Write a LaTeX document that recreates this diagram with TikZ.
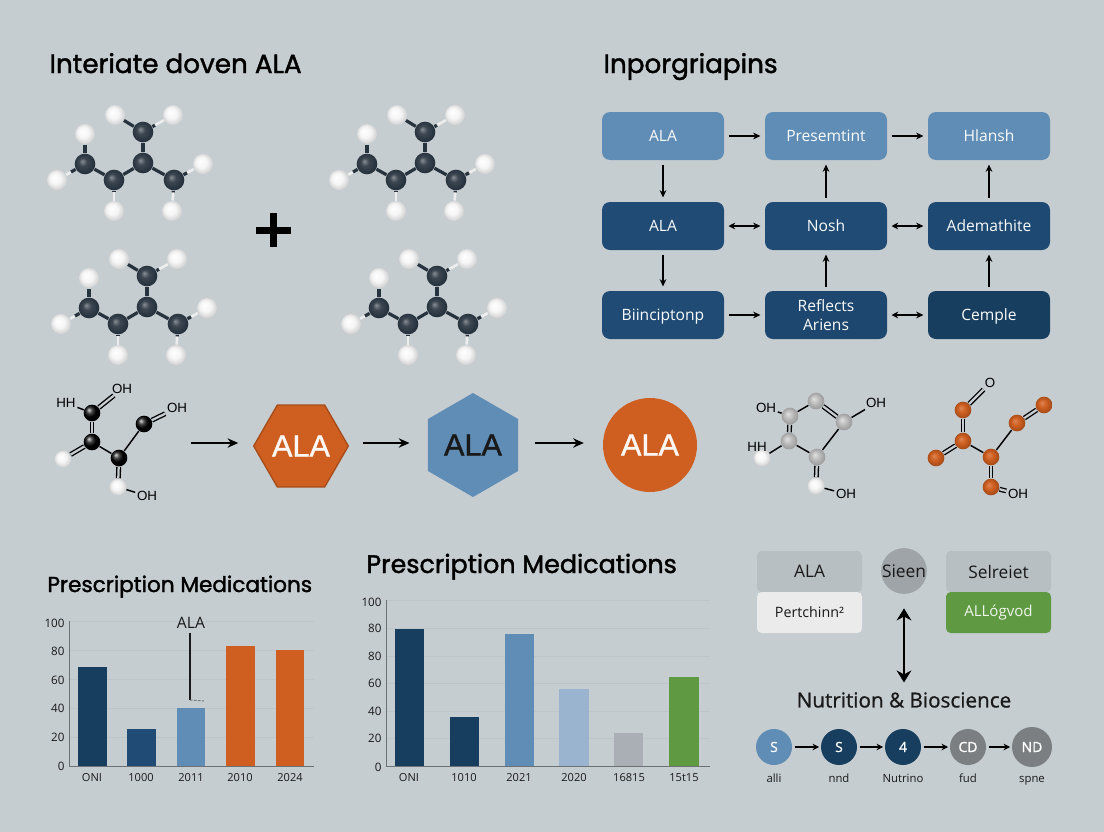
\documentclass[tikz,border=0pt]{standalone}
\usepackage{fontspec}
\setmainfont{Open Sans}
\newfontfamily\headfont[FakeBold=1.6]{Poppins}
\newfontfamily\molfont{Liberation Sans}
\newfontfamily\bigfont[FakeBold=1.2]{Liberation Sans}
\newfontfamily\midfont[FakeBold=0.8]{Open Sans}
\usetikzlibrary{arrows.meta,shapes.geometric,calc}

\definecolor{paper}{RGB}{198,205,209}
\definecolor{steel}{RGB}{95,141,181}
\definecolor{navy}{RGB}{31,75,117}
\definecolor{deepnavy}{RGB}{23,62,95}
\definecolor{rust}{RGB}{207,95,32}
\definecolor{leaf}{RGB}{95,154,66}
\definecolor{slate}{RGB}{38,50,62}
\definecolor{paleblue}{RGB}{154,180,208}
\definecolor{ash}{RGB}{169,175,180}

\pgfdeclareradialshading{hball}{\pgfpoint{-7bp}{7bp}}{color(0bp)=(white); color(14bp)=(black!4); color(28bp)=(black!20); color(35bp)=(black!38)}
\pgfdeclareradialshading{cball}{\pgfpoint{-7bp}{7bp}}{color(0bp)=(slate!55!white); color(10bp)=(slate!90!white); color(24bp)=(slate); color(35bp)=(slate!65!black)}
\pgfdeclareradialshading{greyball}{\pgfpoint{-7bp}{7bp}}{color(0bp)=(black!12); color(14bp)=(black!28); color(35bp)=(black!48)}
\pgfdeclareradialshading{rustball}{\pgfpoint{-7bp}{7bp}}{color(0bp)=(rust!75!white); color(12bp)=(rust); color(35bp)=(rust!65!black)}

\tikzset{every picture/.style={line width=0.75pt}}
\tikzset{
  headtext/.style={font=\headfont\fontsize{19.7}{24}\selectfont,anchor=base west,inner sep=0,text=black},
  charthead/.style={headtext,font=\headfont\fontsize{#1}{20}\selectfont},
  flowbox/.style={rounded corners=6pt,minimum width=91.5pt,minimum height=36pt,inner sep=0,text={white!92!paper},align=center,font=\fontsize{11.7}{14.3}\selectfont},
  lowtext/.style={text height=9.5pt,text depth=2pt},
  flowarrow/.style={-{Stealth[length=5.5pt,width=5pt]},line width=0.9pt,shorten >=3pt,shorten <=3pt},
  flowboth/.style={flowarrow,{Stealth[length=5pt,width=5pt]}-{Stealth[length=5.5pt,width=5pt]}},
  procarrow/.style={-{Stealth[length=8pt,width=7pt]},line width=1.2pt},
  catom/.style={circle,inner sep=0,minimum size=15.5pt,shading=cball},
  hatom/.style={circle,inner sep=0,minimum size=15pt,shading=hball},
  bondc/.style={line width=2.4pt,draw=slate},
  bondh/.style={line width=2pt,draw=black!7},
  blackatom/.style={circle,inner sep=0,minimum size=12.5pt,ball color=black},
  paleatom/.style={circle,inner sep=0,minimum size=12.5pt,shading=hball},
  greyatom/.style={circle,inner sep=0,minimum size=12.5pt,shading=greyball},
  rustatom/.style={circle,inner sep=0,minimum size=12.5pt,shading=rustball},
  moltext/.style={font=\molfont\fontsize{10}{12}\selectfont,inner sep=1pt,text=black},
  single/.style={line width=1.1pt},
  twin/.style={line width=1pt,double=paper,double distance=1.7pt},
  tick/.style={font=\fontsize{8.7}{10}\selectfont,anchor=east,inner sep=0,text=black!90},
  xlabel/.style={font=\fontsize{8.3}{10}\selectfont,inner sep=0,text=black!90},
  axisline/.style={line width=0.75pt,draw=black!45!paper},
  gridline/.style={line width=0.6pt,draw=black!4!paper},
  panelbox/.style={rounded corners=3.5pt,minimum width=78.75pt,minimum height=30.75pt,inner sep=0,text=black!90},
  stepdot/.style={circle,minimum size=27pt,inner sep=0,text=white,font=\midfont\fontsize{10.5}{12}\selectfont},
  steplabel/.style={font=\fontsize{8.5}{10}\selectfont,inner sep=0,text=black!90,anchor=base},
  steparrow/.style={-{Stealth[length=5pt,width=5pt]},line width=0.9pt,shorten >=1pt,shorten <=1.5pt},
  bigtext/.style={font=\bigfont\fontsize{23}{28}\selectfont},
}

% one dark chain molecule with its hydrogens, prefix #1 at (#2,#3)
\newcommand{\chainmol}[3]{%
  \begin{scope}[shift={(#2,#3)}]
    \draw (0,0) node (#1m) [catom] {};
    \draw (0,-31) node (#1t) [catom] {};
    \draw (-29,17) node (#1a) [catom] {};
    \draw (-58,1) node (#1b) [catom] {};
    \draw (31,17) node (#1c) [catom] {};
    \draw (-28,-48) node (#1h) [hatom] {};
    \draw (30,-48) node (#1i) [hatom] {};
    \draw (-58,-29) node (#1j) [hatom] {};
    \draw (-86,17) node (#1k) [hatom] {};
    \draw (-29,48) node (#1l) [hatom] {};
    \draw (60,1) node (#1n) [hatom] {};
    \draw (29,48) node (#1o) [hatom] {};
  \end{scope}
  \draw [bondc] (#1m) -- (#1t);
  \draw [bondc] (#1m) -- (#1a);
  \draw [bondc] (#1a) -- (#1b);
  \draw [bondc] (#1m) -- (#1c);
  \draw [bondc] (#1t) -- (#1h);
  \draw [bondh] (#1t) -- (#1i);
  \draw [bondh] (#1b) -- (#1k);
  \draw [bondh] (#1a) -- (#1l);
  \draw [bondh] (#1c) -- (#1n);
  \draw [bondh] (#1c) -- (#1o);
  \draw [bondc] (#1b) -- (#1j);
  \draw [bondc] (#1b) -- ($(#1b)!.5!(#1k)$);
  \draw [bondc] (#1a) -- ($(#1a)!.4!(#1l)$);
  \draw [bondc] (#1c) -- ($(#1c)!.45!(#1n)$);
  \draw [bondc] (#1c) -- ($(#1c)!.4!(#1o)$);
  \draw [bondc] (#1t) -- ($(#1t)!.4!(#1i)$);
}

\begin{document}
\begin{tikzpicture}[x=0.75pt,y=0.75pt,yscale=-1,xscale=1]

%Background
\fill [paper] (0,0) rectangle (1104,832);

% Headings
\draw (49,73) node (headleft) [headtext] {Interiate doven ALA};
\draw (603,73) node (headright) [headtext] {Inporgriapins};

%Molecules
\chainmol{ma}{143}{163}
\chainmol{mb}{425}{163}
\chainmol{mc}{147}{307}
\chainmol{md}{437}{307}

%Plus
\fill [black] (256,226.5) rectangle (291,233.5);
\fill [black] (270,213) rectangle (277,247);

%Flow boxes
\draw (663,136) node (fa) [flowbox,fill=steel] {ALA};
\draw (826,136) node (fb) [flowbox,fill=steel] {Presemtint};
\draw (989,136) node (fc) [flowbox,fill=steel] {Hlansh};
\draw (663,226) node (fd) [flowbox,fill=navy] {ALA};
\draw (826,226) node (fe) [flowbox,fill=navy] {Nosh};
\draw (989,226) node (ff) [flowbox,fill=navy!85!deepnavy] {Ademathite};
\draw (663,315) node (fg) [flowbox,fill=navy,lowtext] {Biinciptonp};
\draw (826,315) node (fh) [flowbox,fill=navy!70!deepnavy] {Reflects\\Ariens};
\draw (989,315) node (fi) [flowbox,fill=deepnavy,lowtext] {Cemple};

%Flow arrows
\draw [flowarrow] (fa) -- (fb);
\draw [flowarrow] (fb) -- (fc);
\draw [flowarrow] (fa) -- (fd);
\draw [flowarrow] (fd) -- (fg);
\draw [flowboth] (fd) -- (fe);
\draw [flowboth] (fe) -- (ff);
\draw [flowarrow] (fe) -- (fb);
\draw [flowarrow] (ff) -- (fc);
\draw [flowarrow] (fg) -- (fh);
\draw [flowboth] (fh) -- (fi);
\draw [flowarrow] (fh) -- (fe);
\draw [flowarrow] (fi) -- (ff);

%Black molecule
\draw (92,413) node (ba) [blackatom] {};
\draw (92,442) node (bb) [blackatom] {};
\draw (119,458) node (bc) [blackatom] {};
\draw (144,424) node (bd) [blackatom] {};
\draw (63,459) node (be) [paleatom] {};
\draw (118,487) node (bf) [paleatom] {};
% Text Node
\draw (122,389) node (bg) [moltext] {OH};
\draw (66,403) node (bh) [moltext] {HH};
\draw (177,408) node (bi) [moltext] {OH};
\draw (147,496) node (bj) [moltext] {OH};
\draw [twin] (ba) -- (bb);
\draw [twin] (ba) -- (bg);
\draw [single] (ba) -- (bh);
\draw [twin] (bb) -- (be);
\draw [single] (bb) -- (bc);
\draw [twin] (bc) -- (bf);
\draw [single] (bf) -- (bj);
\draw [single] (bc) -- (bd);
\draw [twin] (bd) -- (bi);

%Process row
\draw (301,446) node (hexa) [regular polygon,regular polygon sides=6,minimum size=67.5pt,inner sep=0,fill=rust,draw=rust!80!black,line width=1pt,text=white!95!rust,bigtext] {ALA};
\draw (473,445) node (hexb) [regular polygon,regular polygon sides=6,shape border rotate=90,minimum size=78pt,inner sep=0,fill=steel,text=black!90,bigtext] {ALA};
\draw (650,445) node (ball) [circle,minimum size=70.5pt,inner sep=0,fill=rust,text=white!95!rust,bigtext] {ALA};
\coordinate (chainend) at (191,443);
\draw [procarrow,shorten >=11pt] (chainend) -- (hexa.west |- chainend);
\draw [procarrow,shorten <=10.5pt,shorten >=13.5pt] (hexa.east |- chainend) -- (hexb.west |- chainend);
\draw [procarrow,shorten <=12pt,shorten >=14pt] (hexb.east |- chainend) -- (ball.west |- chainend);

%Grey molecule
\draw (790,416) node (ga) [greyatom] {};
\draw (816,401) node (gb) [greyatom] {};
\draw (844,422) node (gc) [greyatom] {};
\draw (789,441) node (gd) [greyatom] {};
\draw (817,457) node (ge) [greyatom] {};
\draw (762,458) node (gf) [paleatom] {};
\draw (816,486) node (gg) [paleatom] {};
% Text Node
\draw (766,408) node (gh) [moltext] {OH};
\draw (876,403) node (gi) [moltext] {OH};
\draw (757,447) node (gj) [moltext] {HH};
\draw (846,494) node (gk) [moltext] {OH};
\draw [single] (ga) -- (gb);
\draw [twin] (gb) -- (gc);
\draw [single] (gc) -- (gi);
\draw [single] (gc) -- (ge);
\draw [twin] (ga) -- (gd);
\draw [single] (gd) -- (ge);
\draw [single] (gd) -- (gf);
\draw [twin] (ge) -- (gg);
\draw [single] (gg) -- (gk);
\draw [single] (ga) -- (gh);

%Orange molecule
\draw (963,410) node (ra) [rustatom] {};
\draw (963,441) node (rb) [rustatom] {};
\draw (936,458) node (rc) [rustatom] {};
\draw (991,457) node (rd) [rustatom] {};
\draw (1017,423) node (re) [rustatom] {};
\draw (1044,405) node (rf) [rustatom] {};
\draw (991,487) node (rg) [rustatom] {};
% Text Node
\draw (990,383) node (rh) [moltext] {O};
\draw (1018,494) node (ri) [moltext] {OH};
\draw [twin] (ra) -- (rh);
\draw [twin] (ra) -- (rb);
\draw [twin] (rb) -- (rc);
\draw [single] (rb) -- (rd);
\draw [single] (rd) -- (re);
\draw [twin] (re) -- (rf);
\draw [twin] (rd) -- (rg);
\draw [twin] (rg) -- (ri);

%Left chart
\draw (47,592) node (cahead) [charthead=16.2] {Prescription Medications};
\draw [gridline] (69,621) -- (314,621);
\draw [gridline] (69,650) -- (314,650);
\draw [gridline] (69,679) -- (314,679);
\draw [gridline] (69,708) -- (314,708);
\draw [gridline] (69,737) -- (314,737);
\fill [deepnavy] (78,667) rectangle (107,766);
\fill [navy] (127,729) rectangle (156,766);
\fill [steel] (177,708) rectangle (205,766);
\fill [rust] (226,646) rectangle (255,766);
\fill [rust] (276,650) rectangle (304,766);
\draw [axisline] (69,621) -- (69,766) -- (314,766);
\draw (65,623) node (caya) [tick] {100};
\draw (65,651) node (cayb) [tick] {80};
\draw (65,680) node (cayc) [tick] {60};
\draw (65,708) node (cayd) [tick] {40};
\draw (65,737) node (caye) [tick] {20};
\draw (65,766) node (cayf) [tick] {0};
\draw (92,778) node (caxa) [xlabel] {ONI};
\draw (141,778) node (caxb) [xlabel] {1000};
\draw (191,778) node (caxc) [xlabel] {2011};
\draw (240,778) node (caxd) [xlabel] {2010};
\draw (290,778) node (caxe) [xlabel] {2024};
\draw (191,623) node (caala) [inner sep=0,text=black!90,font=\fontsize{11.8}{14}\selectfont] {ALA};
\coordinate (catip) at (190,700);
\draw [line width=0.9pt,black!90,shorten <=3pt] (caala.south -| catip) -- (catip);
\draw [black!40!paper,dashed,dash pattern=on 2pt off 1pt] (catip) -- (204,701);

%Middle chart
\draw (366,573) node (cbhead) [charthead=19] {Prescription Medications};
\draw [gridline] (386,600) -- (710,600);
\draw [gridline] (386,628) -- (710,628);
\draw [gridline] (386,656) -- (710,656);
\draw [gridline] (386,683) -- (710,683);
\draw [gridline] (386,711) -- (710,711);
\draw [gridline] (386,738) -- (710,738);
\fill [deepnavy] (395,629) rectangle (424,766);
\fill [deepnavy] (450,717) rectangle (479,766);
\fill [steel] (505,634) rectangle (534,766);
\fill [paleblue] (559,689) rectangle (589,766);
\fill [ash] (614,733) rectangle (643,766);
\fill [leaf] (669,677) rectangle (699,766);
\draw [axisline] (386,600) -- (386,766) -- (710,766);
\draw (382,602) node (cbya) [tick] {100};
\draw (382,628) node (cbyb) [tick] {80};
\draw (382,656) node (cbyc) [tick] {80};
\draw (382,683) node (cbyd) [tick] {60};
\draw (382,711) node (cbye) [tick] {40};
\draw (382,738) node (cbyf) [tick] {20};
\draw (382,767) node (cbyg) [tick] {0};
\draw (409,778) node (cbxa) [xlabel] {ONI};
\draw (464,778) node (cbxb) [xlabel] {1010};
\draw (519,778) node (cbxc) [xlabel] {2021};
\draw (574,778) node (cbxd) [xlabel] {2020};
\draw (629,778) node (cbxe) [xlabel] {16815};
\draw (684,778) node (cbxf) [xlabel] {15t15};

%Right panel
\draw (809.5,571.5) node (pa) [panelbox,fill=black!7!paper,font=\fontsize{13}{15}\selectfont] {ALA};
\draw (809.5,612.5) node (pb) [panelbox,fill=black!8,font=\fontsize{10.7}{13}\selectfont] {Pertchinn²};
\draw (998.5,571.5) node (pc) [panelbox,fill=black!7!paper,font=\fontsize{13}{15}\selectfont] {Selreiet};
\draw (998.5,612.5) node (pd) [panelbox,fill=leaf,text=white!90!leaf,font=\fontsize{11.3}{13}\selectfont] {ALLógvod};
\draw (904,571) node (pe) [circle,minimum size=30pt,inner sep=0,fill=black!20!paper,text=black!90,font=\fontsize{13}{15}\selectfont] {Sieen};
\draw (904,700) node (pf) [inner sep=0,text=black!90,font=\midfont\fontsize{15.5}{18}\selectfont] {Nutrition \& Bioscience};
\draw [{Stealth[length=9pt,width=11pt]}-{Stealth[length=9pt,width=11pt]},line width=1.6pt,shorten <=10.5pt,shorten >=7pt] (pe) -- (pf);

%Steps
\draw (774,747) node (sa) [stepdot,fill=steel] {S};
\draw (839,747) node (sb) [stepdot,fill=deepnavy] {S};
\draw (903,747) node (sc) [stepdot,fill=deepnavy] {4};
\draw (968,747) node (sd) [stepdot,fill=black!38!paper] {CD};
\draw (1032,747) node (se) [stepdot,minimum size=30pt,fill=black!38!paper] {ND};
\draw [steparrow] (sa) -- (sb);
\draw [steparrow] (sb) -- (sc);
\draw [steparrow] (sc) -- (sd);
\draw [steparrow] (sd) -- (se);
\draw (774,782) node (la) [steplabel] {alli};
\draw (839,782) node (lb) [steplabel] {nnd};
\draw (903,782) node (lc) [steplabel] {Nutrino};
\draw (968,782) node (ld) [steplabel] {fud};
\draw (1032,782) node (le) [steplabel] {spne};

\end{tikzpicture}
\end{document}
